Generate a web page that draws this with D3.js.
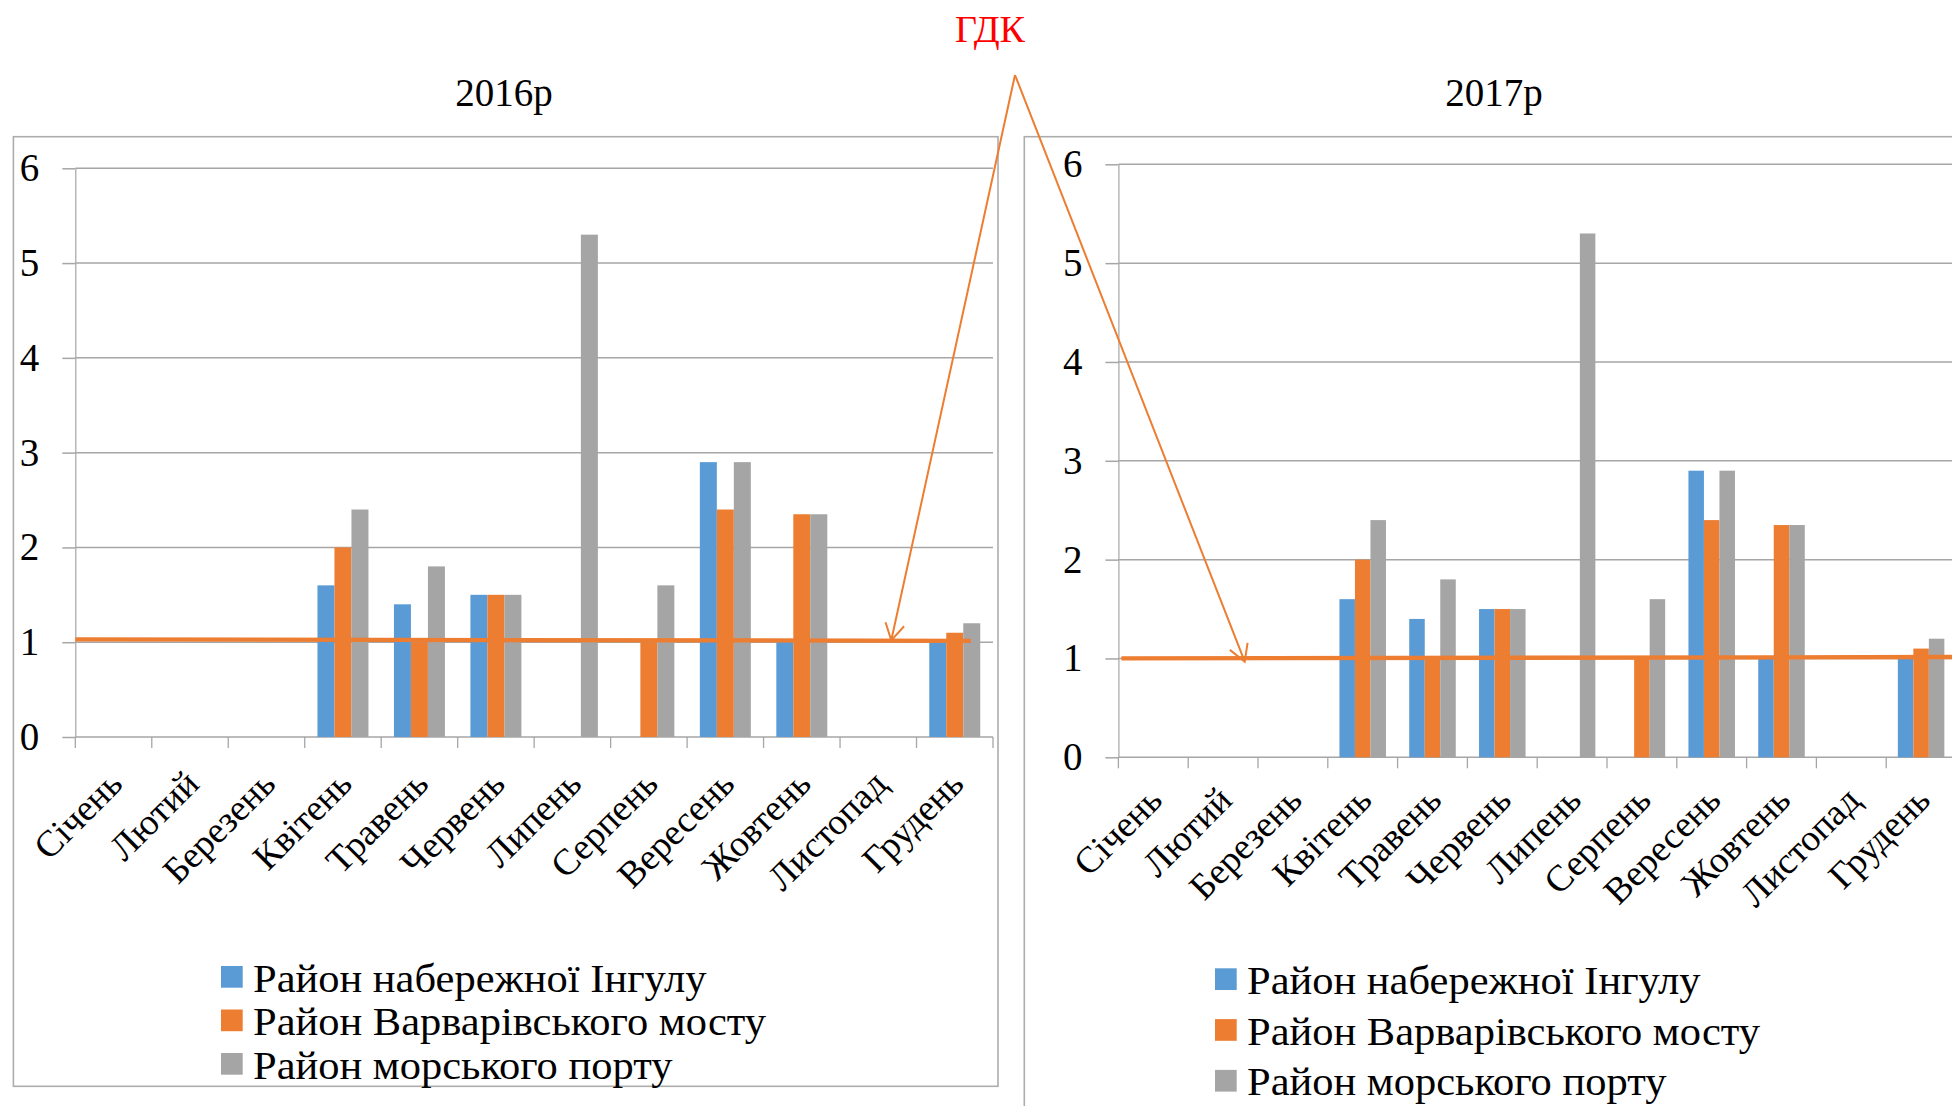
<!DOCTYPE html>
<html>
<head>
<meta charset="utf-8">
<script src="https://cdn.jsdelivr.net/npm/d3@7"></script>
<style>
  html, body { margin: 0; padding: 0; background: #fff; overflow: hidden; }
  svg { display: block; }
  text { font-family: "Liberation Serif", "Times New Roman", serif; fill: #000; }
</style>
</head>
<body>
<svg id="chart" width="1952" height="1106"></svg>
<script>
// Months on the category axis
const months = ["Січень", "Лютий", "Березень", "Квітень", "Травень", "Червень",
                "Липень", "Серпень", "Вересень", "Жовтень", "Листопад", "Грудень"];

// Sampling sites (legend entries)
const seriesNames = ["Район набережної Інгулу", "Район Варварівського мосту", "Район морського порту"];

// 2016 measurements by month
const ingul2016  = [0, 0, 0, 1.6, 1.4, 1.5, 0,   0,   2.9, 1.0,  0, 1.0];
const varvar2016 = [0, 0, 0, 2.0, 1.0, 1.5, 0,   1.0, 2.4, 2.35, 0, 1.1];
const port2016   = [0, 0, 0, 2.4, 1.8, 1.5, 5.3, 1.6, 2.9, 2.35, 0, 1.2];

// 2017 measurements by month
const ingul2017  = [0, 0, 0, 1.6, 1.4, 1.5, 0,   0,   2.9, 1.0,  0, 1.0];
const varvar2017 = [0, 0, 0, 2.0, 1.0, 1.5, 0,   1.0, 2.4, 2.35, 0, 1.1];
const port2017   = [0, 0, 0, 2.4, 1.8, 1.5, 5.3, 1.6, 2.9, 2.35, 0, 1.2];

// Value axis ticks
const yTicks = [0, 1, 2, 3, 4, 5, 6];

// Hand-drawn limit (ГДК) line: level at its left and right ends
const gdk2016 = [1.03, 1.015];
const gdk2017 = [1.0, 1.015];

const colors = ["#5B9BD5", "#ED7D31", "#A5A5A5"];
const gdkColor = "#ED7D31";
const gridColor = "#A6A6A6";
const frameColor = "#ADADAD";
const SERIF = "Liberation Serif, Times New Roman, serif";
const FONT = 39;        // titles, value-axis labels, legend
const MONTH_FONT = 37;  // rotated category labels

const svg = d3.select("#chart");

const panels = [
  { title: "2016р", series: [ingul2016, varvar2016, port2016], gdk: gdk2016,
    frame: { x: 13.4, y: 136.7, w: 984.6, h: 949.6 },
    xr: [75.3, 993], yr: [737, 168.3], titleX: 504, labelDy: 49,
    legend: { x: 221, y: 966, step: 43.5 },
    arrow: { month: "Листопад", frac: 0.67, v: 1.02 }, gdkStartOffset: 0, gdkEndFrac: 11.71 },
  { title: "2017р", series: [ingul2017, varvar2017, port2017], gdk: gdk2017,
    frame: { x: 1024.3, y: 136.7, w: 1000, h: 1000 },
    xr: [1118.4, 1956], yr: [757.3, 164.3], titleX: 1494, labelDy: 45,
    legend: { x: 1215, y: 968.3, step: 50.8 },
    arrow: { month: "Лютий", frac: 0.81, v: 0.967 }, gdkStartOffset: 3, gdkEndFrac: 12.2 }
];

const apex = { x: 1015, y: 75 };
const arrowTips = [];

panels.forEach(p => {
  const g = svg.append("g");

  // outer chart frame
  g.append("rect")
    .attr("x", p.frame.x).attr("y", p.frame.y)
    .attr("width", p.frame.w).attr("height", p.frame.h)
    .attr("fill", "none").attr("stroke", frameColor).attr("stroke-width", 1.6);

  // title
  g.append("text").attr("x", p.titleX).attr("y", 106)
    .attr("text-anchor", "middle").attr("font-family", SERIF).attr("font-size", FONT).text(p.title);

  const x = d3.scaleBand().domain(months).range(p.xr).padding(0);
  const y = d3.scaleLinear().domain([0, 6]).range(p.yr);
  const bw = x.bandwidth();
  const barW = bw / 4.5;

  // horizontal gridlines
  g.append("g").selectAll("line").data(yTicks).join("line")
    .attr("x1", p.xr[0]).attr("x2", p.xr[1])
    .attr("y1", d => y(d)).attr("y2", d => y(d))
    .attr("stroke", gridColor).attr("stroke-width", 1.5);

  // value axis with outside ticks and labels
  const yAxis = g.append("g").attr("transform", `translate(${p.xr[0]},0)`)
    .call(d3.axisLeft(y).tickValues(yTicks).tickSize(13).tickSizeOuter(0).tickPadding(23).tickFormat(d3.format("d")));
  yAxis.attr("font-family", SERIF);
  yAxis.select(".domain").attr("stroke", gridColor).attr("stroke-width", 1.2);
  yAxis.selectAll(".tick line").attr("stroke", gridColor).attr("stroke-width", 1.5);
  yAxis.selectAll(".tick text").attr("font-size", FONT).attr("font-family", SERIF).attr("fill", "#000");

  // category tick marks at band edges
  const edges = d3.range(months.length + 1).map(i => p.xr[0] + i * bw);
  g.append("g").selectAll("line").data(edges).join("line")
    .attr("x1", d => d).attr("x2", d => d)
    .attr("y1", y(0)).attr("y2", y(0) + 11)
    .attr("stroke", gridColor).attr("stroke-width", 1.3);

  // rotated month labels
  g.append("g").selectAll("text").data(months).join("text")
    .attr("text-anchor", "end").attr("font-family", SERIF).attr("font-size", MONTH_FONT)
    .attr("transform", d => `translate(${x(d) + bw / 2 + 11},${y(0) + p.labelDy}) rotate(-45)`)
    .text(d => d);

  // clustered bars
  p.series.forEach((vals, si) => {
    g.append("g").selectAll("rect").data(vals.map((v, i) => ({ m: months[i], v })))
      .join("rect")
      .attr("x", d => x(d.m) + barW * (0.75 + si))
      .attr("width", barW)
      .attr("y", d => y(d.v))
      .attr("height", d => y(0) - y(d.v))
      .attr("fill", colors[si]);
  });

  // ГДК limit line drawn over the bars
  const gx0 = p.xr[0] + p.gdkStartOffset;
  const gx1 = p.xr[0] + bw * p.gdkEndFrac;
  g.append("line")
    .attr("x1", gx0).attr("y1", y(p.gdk[0]))
    .attr("x2", gx1).attr("y2", y(p.gdk[1]))
    .attr("stroke", gdkColor).attr("stroke-width", 4.3);

  arrowTips.push({ x: x(p.arrow.month) + bw * p.arrow.frac, y: y(p.arrow.v) });

  // legend (text set slightly wide)
  const lg = g.append("g");
  seriesNames.forEach((name, i) => {
    const ly = p.legend.y + i * p.legend.step;
    lg.append("rect").attr("x", p.legend.x).attr("y", ly)
      .attr("width", 21.7).attr("height", 21.7).attr("fill", colors[i]);
    lg.append("text")
      .attr("transform", `translate(${p.legend.x + 32},${ly + 25.5}) scale(1.09,1)`)
      .attr("font-family", SERIF).attr("font-size", FONT).text(name);
  });
});

// ГДК label and arrows pointing at both limit lines
svg.append("text").attr("x", 990).attr("y", 42.3).attr("text-anchor", "middle")
  .attr("font-family", SERIF).attr("font-size", 38).style("fill", "#FF0000").text("ГДК");

arrowTips.forEach(t => {
  const dx = t.x - apex.x, dy = t.y - apex.y;
  const len = Math.hypot(dx, dy);
  const ux = dx / len, uy = dy / len;
  const head = 19, ang = 30 * Math.PI / 180;
  const back = (a) => {
    const c = Math.cos(a), s = Math.sin(a);
    const bx = -ux, by = -uy;
    return [t.x + head * (bx * c - by * s), t.y + head * (bx * s + by * c)];
  };
  const h1 = back(ang), h2 = back(-ang);
  svg.append("path")
    .attr("d", `M${apex.x},${apex.y}L${t.x},${t.y}M${h1[0]},${h1[1]}L${t.x},${t.y}L${h2[0]},${h2[1]}`)
    .attr("fill", "none").attr("stroke", gdkColor).attr("stroke-width", 2);
});
</script>
</body>
</html>
